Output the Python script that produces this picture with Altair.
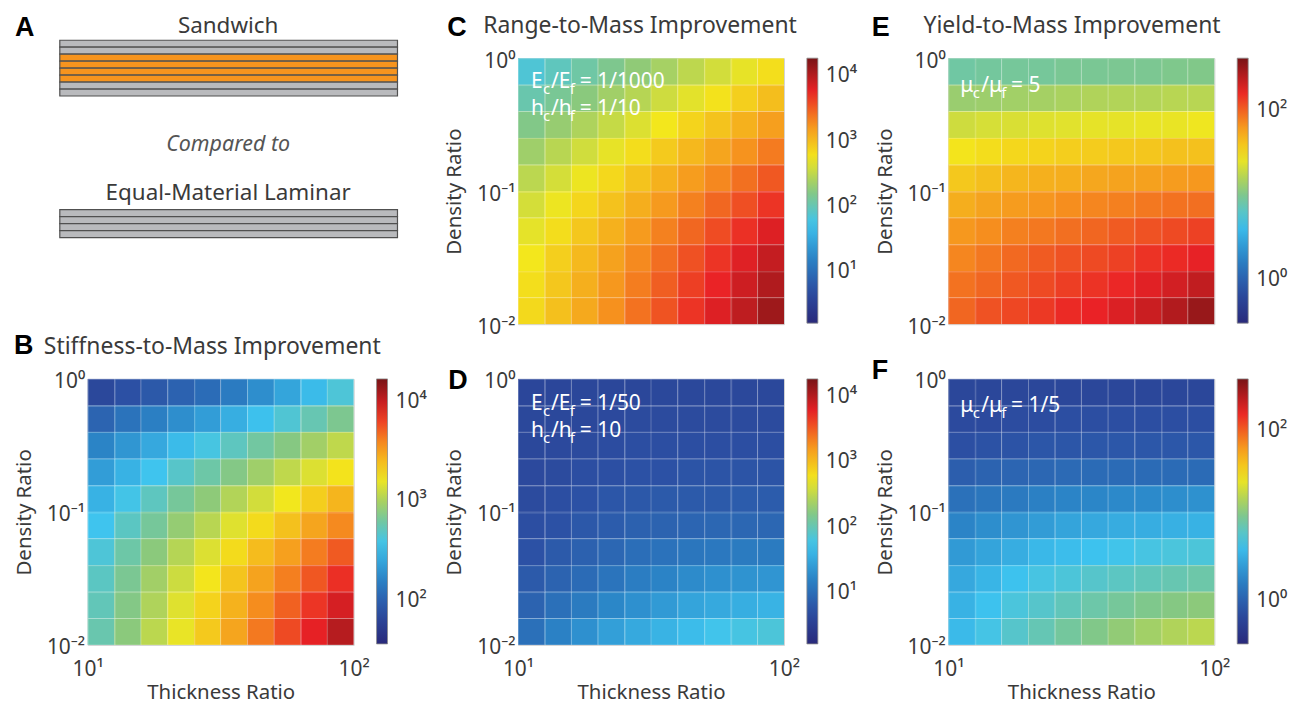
import altair as alt
import pandas as pd

FONT = "Noto Sans"
INK = "#3a3a3a"

# ---------------- data ----------------
thickness_edges = [10.0, 12.59, 15.85, 19.95, 25.12, 31.62, 39.81, 50.12, 63.10, 79.43, 100.0]
density_edges = [1.0, 0.631, 0.398, 0.251, 0.158, 0.1, 0.0631, 0.0398, 0.0251, 0.0158, 0.01]

# log10(improvement); rows: density 1 -> 0.01, columns: thickness 10 -> 100
stiffness_B = [
    [1.84, 1.91, 1.96, 2.02, 2.08, 2.17, 2.28, 2.40, 2.52, 2.64],
    [2.03, 2.12, 2.19, 2.28, 2.36, 2.45, 2.55, 2.65, 2.75, 2.85],
    [2.22, 2.32, 2.42, 2.52, 2.61, 2.71, 2.80, 2.89, 2.98, 3.07],
    [2.36, 2.47, 2.57, 2.68, 2.78, 2.88, 2.97, 3.07, 3.16, 3.25],
    [2.47, 2.59, 2.71, 2.82, 2.92, 3.03, 3.13, 3.23, 3.33, 3.43],
    [2.57, 2.70, 2.82, 2.94, 3.05, 3.17, 3.28, 3.38, 3.49, 3.59],
    [2.64, 2.78, 2.91, 3.04, 3.16, 3.28, 3.40, 3.51, 3.63, 3.73],
    [2.70, 2.84, 2.98, 3.11, 3.24, 3.37, 3.50, 3.62, 3.74, 3.86],
    [2.73, 2.88, 3.02, 3.17, 3.31, 3.44, 3.58, 3.71, 3.84, 3.96],
    [2.76, 2.91, 3.06, 3.20, 3.35, 3.49, 3.64, 3.78, 3.91, 4.05],
]
range_C = [
    [1.86, 1.97, 2.08, 2.18, 2.29, 2.39, 2.50, 2.60, 2.70, 2.81],
    [2.04, 2.15, 2.26, 2.37, 2.47, 2.58, 2.68, 2.79, 2.90, 3.00],
    [2.21, 2.32, 2.43, 2.54, 2.65, 2.76, 2.87, 2.97, 3.08, 3.19],
    [2.36, 2.48, 2.59, 2.70, 2.82, 2.93, 3.04, 3.15, 3.26, 3.37],
    [2.49, 2.61, 2.73, 2.85, 2.97, 3.08, 3.20, 3.31, 3.42, 3.53],
    [2.61, 2.73, 2.86, 2.98, 3.10, 3.22, 3.34, 3.46, 3.57, 3.69],
    [2.69, 2.82, 2.95, 3.08, 3.21, 3.34, 3.46, 3.58, 3.71, 3.83],
    [2.76, 2.90, 3.03, 3.17, 3.30, 3.43, 3.56, 3.69, 3.82, 3.94],
    [2.81, 2.95, 3.09, 3.23, 3.36, 3.50, 3.64, 3.77, 3.90, 4.03],
    [2.84, 2.99, 3.13, 3.27, 3.41, 3.55, 3.69, 3.83, 3.97, 4.11],
]
range_D = [
    [0.61, 0.61, 0.62, 0.62, 0.62, 0.63, 0.63, 0.63, 0.63, 0.63],
    [0.63, 0.63, 0.63, 0.65, 0.67, 0.67, 0.67, 0.67, 0.67, 0.67],
    [0.63, 0.65, 0.67, 0.69, 0.71, 0.71, 0.71, 0.71, 0.71, 0.71],
    [0.65, 0.67, 0.71, 0.73, 0.75, 0.75, 0.77, 0.77, 0.77, 0.77],
    [0.67, 0.71, 0.75, 0.79, 0.81, 0.83, 0.83, 0.83, 0.85, 0.85],
    [0.71, 0.75, 0.81, 0.85, 0.89, 0.91, 0.93, 0.95, 0.95, 0.95],
    [0.75, 0.83, 0.89, 0.95, 1.01, 1.05, 1.09, 1.11, 1.13, 1.13],
    [0.83, 0.91, 0.99, 1.07, 1.15, 1.21, 1.28, 1.32, 1.34, 1.36],
    [0.91, 1.03, 1.13, 1.24, 1.32, 1.40, 1.48, 1.52, 1.56, 1.60],
    [1.03, 1.19, 1.32, 1.44, 1.52, 1.60, 1.68, 1.76, 1.80, 1.84],
]
yield_E = [
    [0.93, 0.95, 0.96, 0.96, 0.98, 0.98, 0.99, 0.99, 1.01, 1.02],
    [1.12, 1.13, 1.15, 1.16, 1.18, 1.20, 1.21, 1.21, 1.23, 1.23],
    [1.31, 1.34, 1.35, 1.37, 1.38, 1.40, 1.40, 1.41, 1.41, 1.43],
    [1.46, 1.49, 1.52, 1.54, 1.56, 1.57, 1.59, 1.60, 1.62, 1.62],
    [1.59, 1.63, 1.67, 1.70, 1.71, 1.74, 1.76, 1.77, 1.79, 1.81],
    [1.71, 1.76, 1.79, 1.82, 1.85, 1.88, 1.90, 1.93, 1.95, 1.96],
    [1.81, 1.85, 1.90, 1.93, 1.96, 1.99, 2.03, 2.06, 2.09, 2.12],
    [1.88, 1.93, 1.98, 2.03, 2.06, 2.09, 2.12, 2.17, 2.20, 2.24],
    [1.95, 1.99, 2.04, 2.09, 2.13, 2.17, 2.21, 2.26, 2.31, 2.37],
    [1.99, 2.06, 2.10, 2.15, 2.20, 2.23, 2.28, 2.34, 2.42, 2.51],
]
yield_F = [
    [-0.20, -0.20, -0.20, -0.20, -0.20, -0.20, -0.20, -0.20, -0.20, -0.20],
    [-0.17, -0.17, -0.15, -0.15, -0.13, -0.13, -0.13, -0.13, -0.13, -0.13],
    [-0.12, -0.10, -0.09, -0.07, -0.07, -0.06, -0.06, -0.06, -0.06, -0.06],
    [-0.01, 0.02, 0.04, 0.05, 0.07, 0.08, 0.08, 0.08, 0.08, 0.08],
    [0.12, 0.16, 0.19, 0.23, 0.26, 0.27, 0.29, 0.30, 0.32, 0.34],
    [0.26, 0.32, 0.37, 0.41, 0.46, 0.49, 0.51, 0.52, 0.54, 0.55],
    [0.40, 0.46, 0.52, 0.59, 0.62, 0.65, 0.68, 0.71, 0.73, 0.74],
    [0.49, 0.57, 0.65, 0.71, 0.74, 0.79, 0.82, 0.85, 0.88, 0.91],
    [0.55, 0.65, 0.73, 0.79, 0.85, 0.91, 0.96, 1.01, 1.04, 1.07],
    [0.60, 0.70, 0.79, 0.87, 0.95, 1.02, 1.09, 1.15, 1.20, 1.24],
]

colorbar_B = [1.57, 4.23]
colorbar_CD = [0.22, 4.28]
colorbar_EF = [-0.51, 2.62]
colorbar_ticks_B = [2, 3, 4]
colorbar_ticks_CD = [1, 2, 3, 4]
colorbar_ticks_EF = [0, 2]

jet_colors = ["#29297a", "#2c4fa3", "#2b86c8", "#3ec4ef", "#88c87f",
              "#f3e71c", "#f6921e", "#ea2226", "#781416"]

sandwich_layers = ["face", "face", "core", "core", "core", "core", "face", "face"]
laminar_layers = ["face", "face", "face", "face"]
layer_kinds = ["face", "core"]
layer_colors = ["#b9babd", "#f7941e"]

W = 267
H = 267

X_LABELS = "datum.value == 10 ? '10¹' : datum.value == 100 ? '10²' : ''"
Y_LABELS = ("datum.value == 1 ? '10⁰' : datum.value == 0.1 ? '10⁻¹' : "
            "datum.value == 0.01 ? '10⁻²' : ''")
CB_LABELS = ("'10' + (datum.value == 0 ? '⁰' : datum.value == 1 ? '¹' : "
             "datum.value == 2 ? '²' : datum.value == 3 ? '³' : '⁴')")


def cells(grid):
    recs = []
    for j, row in enumerate(grid):
        for i, v in enumerate(row):
            recs.append(dict(t0=thickness_edges[i], t1=thickness_edges[i + 1],
                             d0=density_edges[j], d1=density_edges[j + 1], v=v))
    return pd.DataFrame(recs)


def txt(s, x, y, size, weight="normal", style="normal", color=INK,
        font=FONT, align="left"):
    return alt.Chart(pd.DataFrame({"s": [s]})).mark_text(
        font=font, fontSize=size, fontWeight=weight, fontStyle=style,
        color=color, align=align, baseline="alphabetic"
    ).encode(text="s:N", x=alt.value(x), y=alt.value(y))


def note(segments, x0, y0):
    out = []
    for s, dx, sub in segments:
        if sub:
            out.append(txt(s, x0 + dx, y0 + 6, 15, color="white"))
        else:
            out.append(txt(s, x0 + dx, y0, 21, color="white"))
    return out


def heat(grid, cb, cb_ticks, show_x, extras):
    lo, hi = cb
    stops = [round(lo + k * (hi - lo) / 8, 4) for k in range(9)]
    cscale = alt.Scale(domain=stops, range=jet_colors, interpolate="rgb", clamp=True)
    xaxis = alt.Axis(
        values=thickness_edges, labelExpr=X_LABELS, labels=show_x,
        title="Thickness Ratio" if show_x else None,
        grid=True, gridColor="white", gridOpacity=0.25, gridWidth=1,
        ticks=False, domain=False, labelFlush=False, labelOverlap=False,
        labelFont=FONT, labelFontSize=21, labelColor=INK, labelPadding=14,
        titleFont=FONT, titleFontSize=20.5, titleFontWeight="normal",
        titleColor=INK, titlePadding=3, zindex=1)
    yaxis = alt.Axis(
        values=density_edges, labelExpr=Y_LABELS, title="Density Ratio",
        grid=True, gridColor="white", gridOpacity=0.25, gridWidth=1,
        ticks=False, domain=False, labelFlush=False, labelOverlap=False,
        labelFont=FONT, labelFontSize=21, labelColor=INK, labelPadding=3,
        labelOffset=3, titleFont=FONT, titleFontSize=20.5,
        titleFontWeight="normal", titleColor=INK, titlePadding=12, zindex=1)
    rects = alt.Chart(cells(grid)).mark_rect().encode(
        x=alt.X("t0:Q", scale=alt.Scale(type="log", domain=[10, 100], nice=False), axis=xaxis),
        x2="t1:Q",
        y=alt.Y("d0:Q", scale=alt.Scale(type="log", domain=[0.01, 1], nice=False), axis=yaxis),
        y2="d1:Q",
        color=alt.Color("v:Q", scale=cscale, legend=alt.Legend(
            type="gradient", orient="none", legendX=W + 23, legendY=0,
            direction="vertical", gradientLength=H - 1, gradientThickness=11,
            title=None, values=cb_ticks, labelExpr=CB_LABELS, labelFont=FONT,
            labelFontSize=21, labelColor=INK, labelOffset=8,
            labelOverlap=False,
            gradientStrokeColor="#8a8a8a", gradientStrokeWidth=0.8)),
    )
    return alt.layer(rects, *extras).properties(width=W, height=H)


# ---------------- panel A (schematic) ----------------
a_rows = []
for k, kind in enumerate(sandwich_layers):
    a_rows.append(dict(kind=kind, top=k, bottom=k + 1, left=0, right=1))
for k, kind in enumerate(laminar_layers):
    a_rows.append(dict(kind=kind, top=24.3 + k, bottom=25.3 + k, left=0, right=1))
a_df = pd.DataFrame(a_rows)

a_rects = alt.Chart(a_df).mark_rect(stroke="#505050", strokeWidth=1.2).encode(
    x=alt.X("left:Q", scale=alt.Scale(domain=[0, 1], range=[-28, 311]), axis=None),
    x2="right:Q",
    y=alt.Y("top:Q", scale=alt.Scale(domain=[0, 30], range=[-18, 192]), axis=None),
    y2="bottom:Q",
    color=alt.Color("kind:N", scale=alt.Scale(domain=layer_kinds, range=layer_colors), legend=None),
)
panel_A = alt.layer(
    a_rects,
    txt("A", -73, -22, 27, weight="bold", color="black", font="Liberation Sans"),
    txt("Sandwich", 141, -25, 22.5, align="center"),
    txt("Compared to", 141, 93, 21.5, style="italic", color="#555555", align="center"),
    txt("Equal-Material Laminar", 141, 142, 22.5, align="center"),
).properties(width=W, height=H, view=alt.ViewBackground(strokeOpacity=0))

# ---------------- heat panels ----------------
seg_C1 = [("E", 13, False), ("c", 25, True), ("/E", 33, False), ("f", 52, True), ("= 1/1000", 62, False)]
seg_C2 = [("h", 13, False), ("c", 25, True), ("/h", 33, False), ("f", 52, True), ("= 1/10", 62, False)]
seg_D1 = [("E", 13, False), ("c", 25, True), ("/E", 33, False), ("f", 52, True), ("= 1/50", 62, False)]
seg_D2 = [("h", 13, False), ("c", 25, True), ("/h", 33, False), ("f", 52, True), ("= 10", 62, False)]
seg_E = [("μ", 12, False), ("c", 24.5, True), ("/μ", 33, False), ("f", 53, True), ("= 5", 63, False)]
seg_F = [("μ", 12, False), ("c", 24.5, True), ("/μ", 33, False), ("f", 53, True), ("= 1/5", 63, False)]

panel_B = heat(stiffness_B, colorbar_B, colorbar_ticks_B, True, [
    txt("B", -74, -25, 27, weight="bold", color="black", font="Liberation Sans"),
    txt("Stiffness-to-Mass Improvement", -44, -25, 23),
])
panel_C = heat(range_C, colorbar_CD, colorbar_ticks_CD, False, [
    txt("C", -71, -22, 27, weight="bold", color="black", font="Liberation Sans"),
    txt("Range-to-Mass Improvement", -35, -25, 23),
    *note(seg_C1, 0, 30), *note(seg_C2, 0, 57),
])
panel_D = heat(range_D, colorbar_CD, colorbar_ticks_CD, True, [
    txt("D", -70, 10, 27, weight="bold", color="black", font="Liberation Sans"),
    *note(seg_D1, 0, 31), *note(seg_D2, 0, 58),
])
panel_E = heat(yield_E, colorbar_EF, colorbar_ticks_EF, False, [
    txt("E", -77, -22, 27, weight="bold", color="black", font="Liberation Sans"),
    txt("Yield-to-Mass Improvement", -25, -25, 23),
    *note(seg_E, 0, 34),
])
panel_F = heat(yield_F, colorbar_EF, colorbar_ticks_EF, True, [
    txt("F", -77, 0, 27, weight="bold", color="black", font="Liberation Sans"),
    *note(seg_F, 0, 33),
])

chart = alt.concat(
    panel_A, panel_C, panel_E, panel_B, panel_D, panel_F,
    columns=3, bounds="flush", spacing={"row": 55, "column": 165},
).resolve_scale(
    x="independent", y="independent", color="independent"
).properties(
    padding={"left": 5, "top": 4, "right": 5, "bottom": 5}
).configure_view(stroke="#c4c4c4", strokeWidth=1)

chart.save("out.html", embed_options={"renderer": "svg", "actions": False})
